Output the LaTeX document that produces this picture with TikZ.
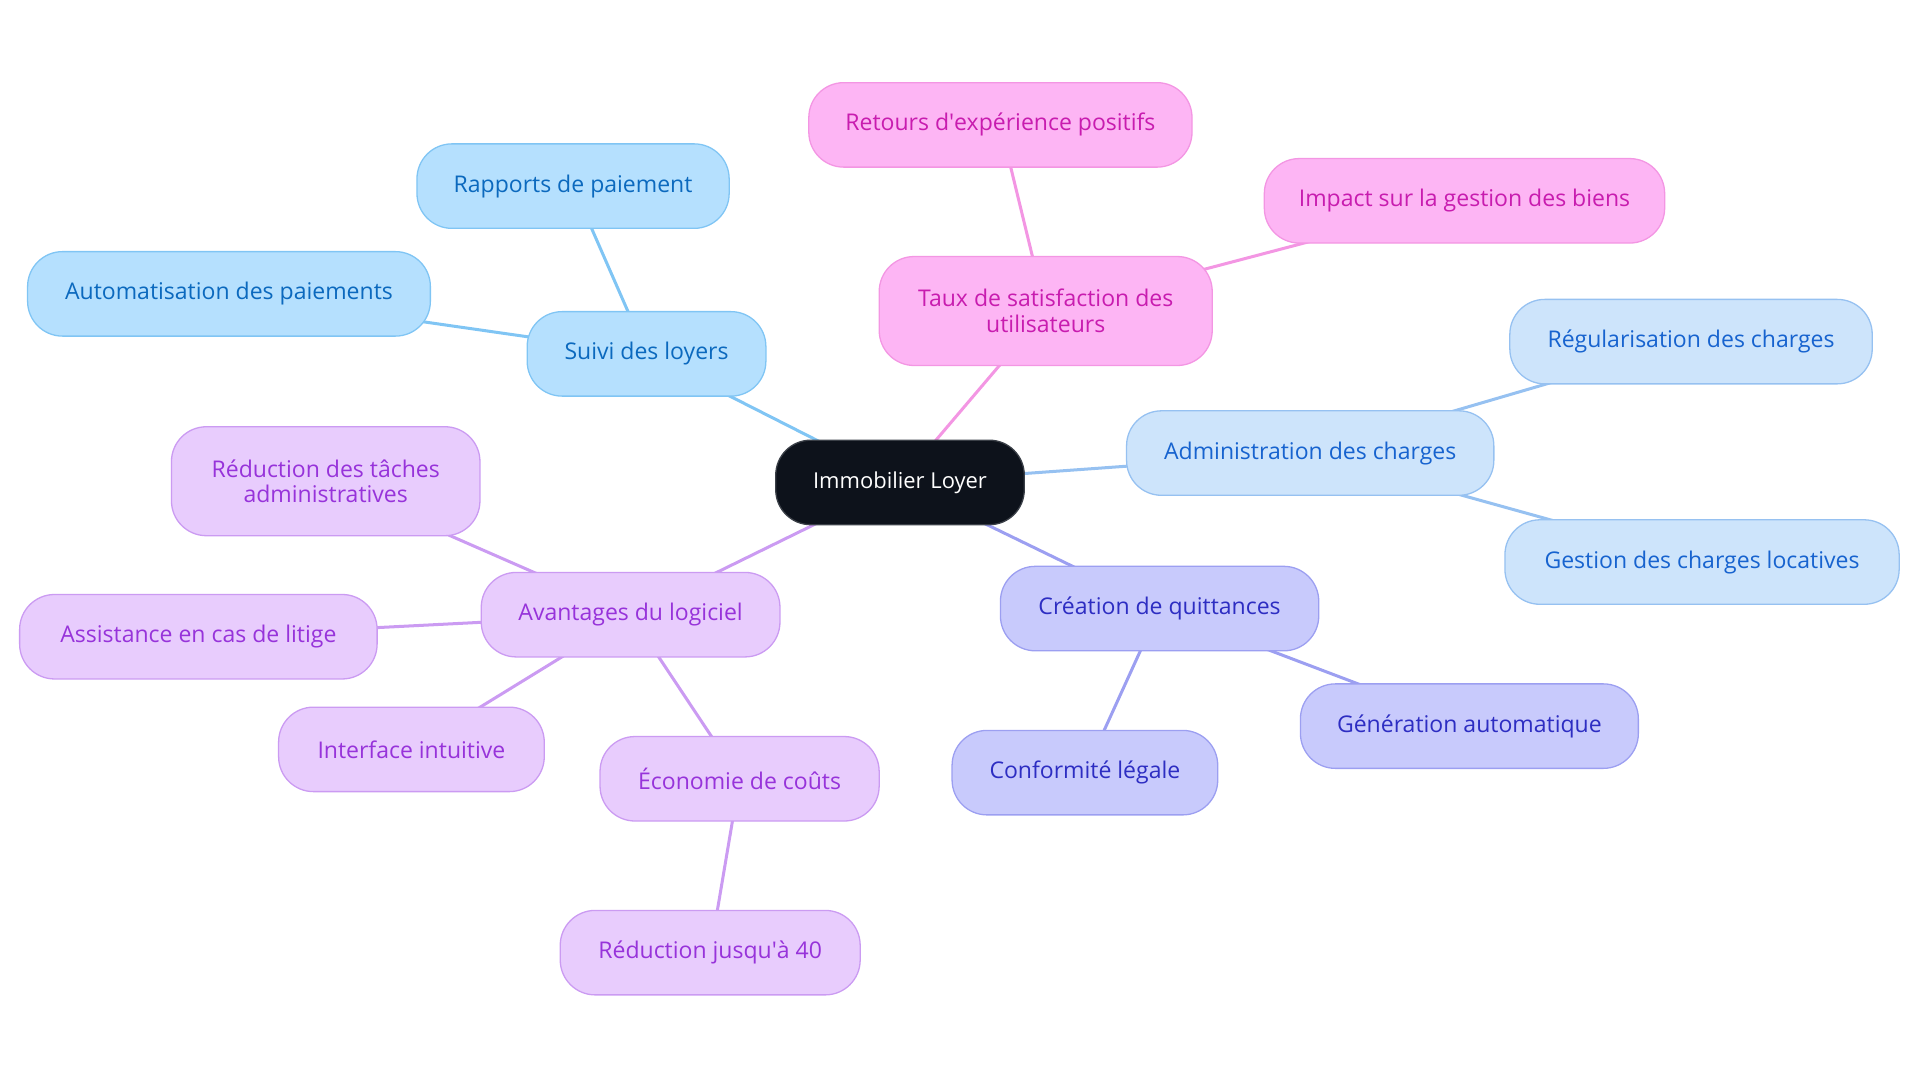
\documentclass[tikz,border=0pt]{standalone}
\usepackage{fontspec}
\setmainfont{Open Sans}
\usetikzlibrary{backgrounds}
\definecolor{encre}{HTML}{0D121B}
\definecolor{encrebord}{HTML}{3A3F47}
\definecolor{ciel}{HTML}{B5E0FE}
\definecolor{cielbord}{HTML}{80C5F4}
\definecolor{cieltexte}{HTML}{0B69BE}
\definecolor{rose}{HTML}{FDB5F4}
\definecolor{rosebord}{HTML}{F396E3}
\definecolor{rosetexte}{HTML}{C81CAF}
\definecolor{azur}{HTML}{CDE4FB}
\definecolor{azurbord}{HTML}{96C1F1}
\definecolor{azurtexte}{HTML}{1763CF}
\definecolor{indigo}{HTML}{C8CAFC}
\definecolor{indigobord}{HTML}{9C9FF1}
\definecolor{indigotexte}{HTML}{2D2DC2}
\definecolor{mauve}{HTML}{E8CCFD}
\definecolor{mauvebord}{HTML}{CB9BF2}
\definecolor{mauvetexte}{HTML}{9733DA}
\tikzset{
  bulle/.style={rectangle, rounded corners=0.57cm, minimum height=1.38cm, inner sep=2pt,
                line width=0.6pt, text centered, align=center, font=\fontsize{10.7pt}{12pt}\selectfont},
  racine/.style={bulle, draw=encrebord, fill=encre, text=white, font=\fontsize{10.2pt}{12pt}\selectfont},
  suivi/.style={bulle, draw=cielbord, fill=ciel, text=cieltexte},
  taux/.style={bulle, draw=rosebord, fill=rose, text=rosetexte},
  admin/.style={bulle, draw=azurbord, fill=azur, text=azurtexte},
  quitt/.style={bulle, draw=indigobord, fill=indigo, text=indigotexte},
  avant/.style={bulle, draw=mauvebord, fill=mauve, text=mauvetexte},
  lien/.style={line width=1.4pt}
}

\begin{document}
\begin{tikzpicture}[x=0.02cm, y=-0.02cm]
  \useasboundingbox (0,0) rectangle (1568,884);
  \node (racine) [racine, minimum width=4.06cm] at (735,394) {Immobilier Loyer};
  % suivi des loyers
  \node (suivi) [suivi, minimum width=3.90cm] at (528,289) {Suivi des loyers};
  \node (rapports) [suivi, minimum width=5.10cm] at (468,152) {Rapports de paiement};
  \node (automat) [suivi, minimum width=6.58cm] at (187,240) {Automatisation des paiements};
  % satisfaction
  \node (taux) [taux, minimum width=5.44cm, minimum height=1.78cm] at (854,254) {Taux de satisfaction des\\ utilisateurs};
  \node (retours) [taux, minimum width=6.26cm] at (817,102) {Retours d\textquotesingle expérience positifs};
  \node (impact) [taux, minimum width=6.54cm] at (1196,164) {Impact sur la gestion des biens};
  % charges
  \node (admin) [admin, minimum width=6.00cm] at (1070,370) {Administration des charges};
  \node (regul) [admin, minimum width=5.92cm] at (1381,279) {Régularisation des charges};
  \node (gestion) [admin, minimum width=6.44cm] at (1390,459) {Gestion des charges locatives};
  % quittances
  \node (creation) [quitt, minimum width=5.20cm] at (947,497) {Création de quittances};
  \node (generation) [quitt, minimum width=5.52cm] at (1200,593) {Génération automatique};
  \node (conforme) [quitt, minimum width=4.34cm] at (886,631) {Conformité légale};
  % avantages
  \node (avantages) [avant, minimum width=4.88cm] at (515,502) {Avantages du logiciel};
  \node (taches) [avant, minimum width=5.04cm, minimum height=1.78cm] at (266,393) {Réduction des tâches\\ administratives};
  \node (litige) [avant, minimum width=5.84cm] at (162,520) {Assistance en cas de litige};
  \node (interface) [avant, minimum width=4.34cm] at (336,612) {Interface intuitive};
  \node (economie) [avant, minimum width=4.56cm] at (604,636) {Économie de coûts};
  \node (reduc) [avant, minimum width=4.90cm] at (580,778) {Réduction jusqu\textquotesingle à 40};

  % liens derriere les bulles
  \begin{scope}[on background layer]
    \draw [lien, cielbord] (racine.center) -- (suivi.center);
    \draw [lien, cielbord] (suivi.center) -- (rapports.center);
    \draw [lien, cielbord] (suivi.center) -- (automat.center);
    \draw [lien, rosebord] (racine.center) -- (taux.center);
    \draw [lien, rosebord] (taux.center) -- (retours.center);
    \draw [lien, rosebord] (taux.center) -- (impact.center);
    \draw [lien, azurbord] (racine.center) -- (admin.center);
    \draw [lien, azurbord] (admin.center) -- (regul.center);
    \draw [lien, azurbord] (admin.center) -- (gestion.center);
    \draw [lien, indigobord] (racine.center) -- (creation.center);
    \draw [lien, indigobord] (creation.center) -- (generation.center);
    \draw [lien, indigobord] (creation.center) -- (conforme.center);
    \draw [lien, mauvebord] (racine.center) -- (avantages.center);
    \draw [lien, mauvebord] (avantages.center) -- (taches.center);
    \draw [lien, mauvebord] (avantages.center) -- (litige.center);
    \draw [lien, mauvebord] (avantages.center) -- (interface.center);
    \draw [lien, mauvebord] (avantages.center) -- (economie.center);
    \draw [lien, mauvebord] (economie.center) -- (reduc.center);
  \end{scope}
\end{tikzpicture}
\end{document}
